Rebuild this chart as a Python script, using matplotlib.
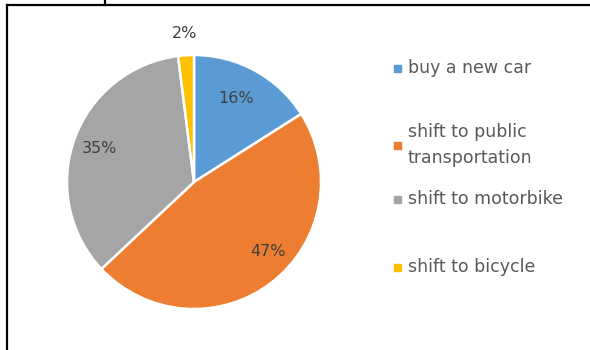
import matplotlib
matplotlib.use("Agg")
import matplotlib.pyplot as plt
from matplotlib.lines import Line2D
import numpy as np

categories = ["buy a new car", "shift to public\ntransportation",
              "shift to motorbike", "shift to bicycle"]
shares = [16, 47, 35, 2]
colors = ["#5B9BD5", "#ED7D31", "#A5A5A5", "#FFC000"]

# label radius / angle nudge (degrees) per slice, relative to wedge middle
label_radius = [0.74, 0.80, 0.79, 1.17]
label_nudge = [2, 9, 0, 0]

W, H = 590, 350
plt.rcParams["font.family"] = ["DejaVu Sans"]
fig = plt.figure(figsize=(W / 100, H / 100), dpi=100)

# pie centre and radius in pixels (from top-left)
cx, cy, r = 194, 182, 127
ax = fig.add_axes([(cx - r) / W, (H - cy - r) / H, 2 * r / W, 2 * r / H])
wedges, _ = ax.pie(shares, colors=colors, startangle=90, counterclock=False,
                   wedgeprops=dict(edgecolor="white", linewidth=1.8))
ax.set_xlim(-1, 1)
ax.set_ylim(-1, 1)
ax.set_aspect("equal")
ax.axis("off")

for w, val, rad, nudge in zip(wedges, shares, label_radius, label_nudge):
    mid = np.deg2rad((w.theta1 + w.theta2) / 2 + nudge)
    ax.text(rad * np.cos(mid), rad * np.sin(mid), f"{val}%",
            ha="center", va="center", fontsize=11.5, color="#404040")

# legend
legend_y = [68, 145, 199, 267]
for lab, col, y in zip(categories, colors, legend_y):
    fig.patches.append(plt.Rectangle(((397 - 3.5) / W, 1 - (y + 3.5) / H), 7 / W, 7 / H,
                                     transform=fig.transFigure, color=col))
    fig.text(408 / W, 1 - y / H, lab, ha="left", va="center", fontsize=12.5,
             color="#595959", linespacing=1.6)

# frame lines
fig.add_artist(Line2D([7 / W, 1], [1 - 5 / H, 1 - 5 / H], color="black", lw=1.6))
fig.add_artist(Line2D([7 / W, 7 / W], [0, 1 - 5 / H], color="black", lw=1.6))
fig.add_artist(Line2D([105 / W, 105 / W], [1 - 5 / H, 1], color="black", lw=1.6))

fig.savefig("out.png", dpi=100)
